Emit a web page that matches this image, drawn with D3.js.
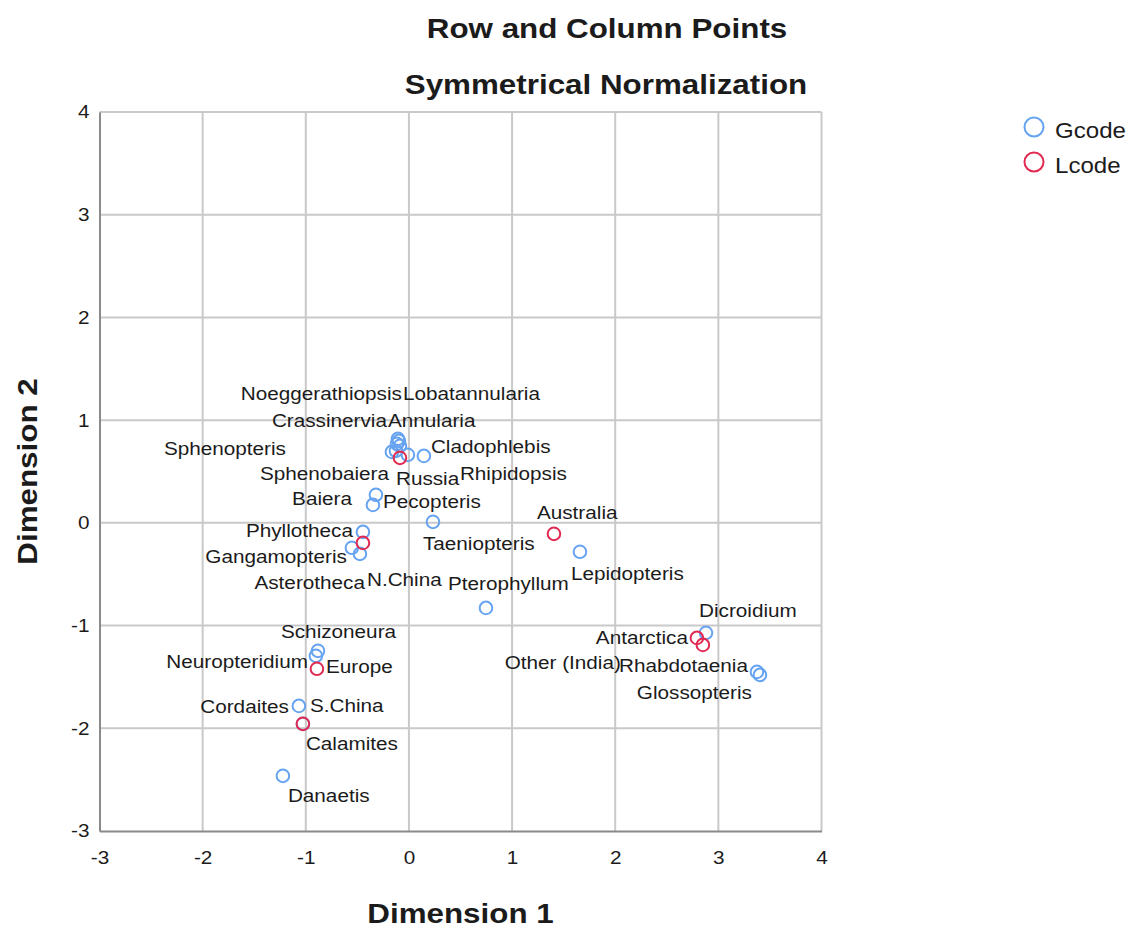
<!DOCTYPE html>
<html>
<head>
<meta charset="utf-8">
<script src="https://cdn.jsdelivr.net/npm/d3@7"></script>
<style>
  html, body { margin: 0; padding: 0; background: #fff; }
  svg { display: block; font-family: "Liberation Sans", Arial, sans-serif; }
</style>
</head>
<body>
<svg id="chart" width="1131" height="929"></svg>
<script>
// Row points (Gcode): genus scores on the two dimensions
const gcodeNames = ["Noeggerathiopsis", "Lobatannularia", "Crassinervia", "Annularia", "Sphenopteris",
  "Sphenobaiera", "Cladophlebis", "Rhipidopsis", "Baiera", "Pecopteris", "Taeniopteris", "Phyllotheca",
  "Gangamopteris", "Asterotheca", "Pterophyllum", "Lepidopteris", "Dicroidium", "Rhabdotaenia",
  "Glossopteris", "Schizoneura", "Neuropteridium", "Cordaites", "Calamites", "Danaetis"];
const gcodeDim1 = [-0.107, -0.097, -0.116, -0.087, -0.165, -0.126, 0.145, -0.010, -0.320, -0.349, 0.233, -0.446,
  -0.553, -0.475, 0.747, 1.658, 2.880, 3.374, 3.403, -0.882, -0.902, -1.067, -1.028, -1.222];
const gcodeDim2 = [0.818, 0.798, 0.769, 0.750, 0.691, 0.701, 0.652, 0.662, 0.273, 0.175, 0.010, -0.088,
  -0.243, -0.302, -0.828, -0.282, -1.071, -1.451, -1.480, -1.246, -1.295, -1.782, -1.957, -2.463];

// Column points (Lcode): region scores on the two dimensions
const lcodeNames = ["Russia", "Australia", "N.China", "Antarctica", "Other (India)", "Europe", "S.China"];
const lcodeDim1 = [-0.087, 1.406, -0.446, 2.792, 2.850, -0.892, -1.028];
const lcodeDim2 = [0.633, -0.107, -0.195, -1.120, -1.188, -1.421, -1.957];

const xTicks = [-3, -2, -1, 0, 1, 2, 3, 4];
const yTicks = [-3, -2, -1, 0, 1, 2, 3, 4];

const seriesNames = ["Gcode", "Lcode"];
const seriesColors = ["#66a3f0", "#e02a52"];

// Label placement around each point: [dx, dy, text-anchor] in pixels
const labelPlacement = {
  "Noeggerathiopsis": [4, -39, "end"], "Lobatannularia": [4, -41, "start"],
  "Crassinervia": [-10, -17, "end"], "Annularia": [-12, -19, "start"],
  "Sphenopteris": [-106, 3, "end"], "Sphenobaiera": [-7, 29, "end"],
  "Cladophlebis": [7, -3, "start"], "Rhipidopsis": [52, 25, "start"],
  "Baiera": [-24, 10, "end"], "Pecopteris": [10, 3, "start"],
  "Taeniopteris": [-10, 28, "start"], "Phyllotheca": [-10, 5, "end"],
  "Gangamopteris": [-5, 15, "end"], "Asterotheca": [5, 35, "end"],
  "Pterophyllum": [-38, -18, "start"], "Lepidopteris": [-9, 28, "start"],
  "Dicroidium": [-7, -16, "start"], "Rhabdotaenia": [-9, 0, "end"],
  "Glossopteris": [-8, 24, "end"], "Schizoneura": [-37, -13, "start"],
  "Neuropteridium": [-8, 12, "end"], "Cordaites": [-10, 7, "end"],
  "Calamites": [3, 26, "start"], "Danaetis": [5, 26, "start"],
  "Russia": [-4, 27, "start"], "Australia": [-17, -15, "start"],
  "N.China": [4, 43, "start"], "Antarctica": [-9, 6, "end"],
  "Other (India)": [-82, 24, "end"], "Europe": [9, 4, "start"],
  "S.China": [7, -12, "start"]
};

const textStretch = 1.12;
const inkColor = "#1b1b1b";

const svg = d3.select("#chart");
svg.append("rect").attr("width", 1131).attr("height", 929).attr("fill", "#fff");

const plot = { left: 99.5, right: 821.5, top: 112, bottom: 831 };
const x = d3.scaleLinear().domain([-3, 4]).range([plot.left, plot.right]);
const y = d3.scaleLinear().domain([-3, 4]).range([plot.bottom, plot.top]);

// Text drawn slightly wide, the way the chart's fonts render
function wideText(parent, px, py, str, size, weight, anchor, rotate) {
  const g = parent.append("g")
    .attr("transform", `translate(${px},${py})` + (rotate ? ` rotate(${rotate})` : ""));
  return g.append("text")
    .attr("transform", `scale(${textStretch},1)`)
    .attr("text-anchor", anchor || "start")
    .attr("font-size", size)
    .attr("font-weight", weight || "normal")
    .attr("fill", inkColor)
    .text(str);
}

// Titles
wideText(svg, 607, 38, "Row and Column Points", 28, "bold", "middle");
wideText(svg, 606, 94, "Symmetrical Normalization", 28, "bold", "middle");

// Grid lines
const grid = svg.append("g").attr("stroke", "#c9c9c9").attr("stroke-width", 2);
grid.selectAll("line.v").data(xTicks.filter(d => d !== -3)).join("line")
  .attr("class", "v")
  .attr("x1", d => x(d)).attr("x2", d => x(d))
  .attr("y1", plot.top).attr("y2", plot.bottom);
grid.selectAll("line.h").data(yTicks.filter(d => d !== -3)).join("line")
  .attr("class", "h")
  .attr("x1", plot.left).attr("x2", plot.right)
  .attr("y1", d => y(d)).attr("y2", d => y(d));

// Axes (plain hyphen-minus in the tick labels)
const tickText = d => String(d);
const xAxis = svg.append("g")
  .attr("transform", `translate(0,${plot.bottom})`)
  .call(d3.axisBottom(x).tickValues(xTicks).tickSize(0).tickPadding(20).tickFormat(tickText));
const yAxis = svg.append("g")
  .attr("transform", `translate(${plot.left},0)`)
  .call(d3.axisLeft(y).tickValues(yTicks).tickSize(0).tickPadding(11).tickFormat(tickText));

[xAxis, yAxis].forEach(ax => {
  ax.select(".domain").attr("stroke", "#8a8a8a").attr("stroke-width", 2);
  ax.selectAll(".tick text")
    .attr("font-size", 18.5)
    .attr("font-family", "'Liberation Sans', Arial, sans-serif")
    .attr("fill", inkColor);
});
xAxis.selectAll(".tick text").attr("transform", `scale(${textStretch},1)`);
yAxis.selectAll(".tick text").attr("x", -10 / textStretch).attr("transform", `scale(${textStretch},1)`);

// Axis titles
wideText(svg, (plot.left + plot.right) / 2, 923, "Dimension 1", 28, "bold", "middle");
wideText(svg, 37, (plot.top + plot.bottom) / 2, "Dimension 2", 28, "bold", "middle", -90);

// Points and labels
const gcodeRows = gcodeNames.map((n, i) => ({ name: n, d1: gcodeDim1[i], d2: gcodeDim2[i], s: 0 }));
const lcodeRows = lcodeNames.map((n, i) => ({ name: n, d1: lcodeDim1[i], d2: lcodeDim2[i], s: 1 }));
const allRows = gcodeRows.concat(lcodeRows);

const labels = svg.append("g");
allRows.forEach(r => {
  const p = labelPlacement[r.name];
  wideText(labels, x(r.d1) + p[0], y(r.d2) + p[1], r.name, 18.5, "normal", p[2]);
});

const marks = svg.append("g").attr("fill", "none").attr("stroke-width", 2);
marks.selectAll("circle.g").data(gcodeRows).join("circle")
  .attr("class", "g")
  .attr("cx", d => x(d.d1)).attr("cy", d => y(d.d2)).attr("r", 6.3)
  .attr("stroke", seriesColors[0]);
marks.selectAll("circle.l").data(lcodeRows).join("circle")
  .attr("class", "l")
  .attr("cx", d => x(d.d1)).attr("cy", d => y(d.d2)).attr("r", 6.3)
  .attr("stroke", seriesColors[1]);

// Legend
const legend = svg.append("g");
seriesNames.forEach((name, i) => {
  const ly = 127 + i * 35;
  legend.append("circle")
    .attr("cx", 1034).attr("cy", ly).attr("r", 9.5)
    .attr("fill", "none").attr("stroke", seriesColors[i]).attr("stroke-width", 2);
  wideText(legend, 1055, ly + 11, name, 21.5, "normal", "start");
});
</script>
</body>
</html>
